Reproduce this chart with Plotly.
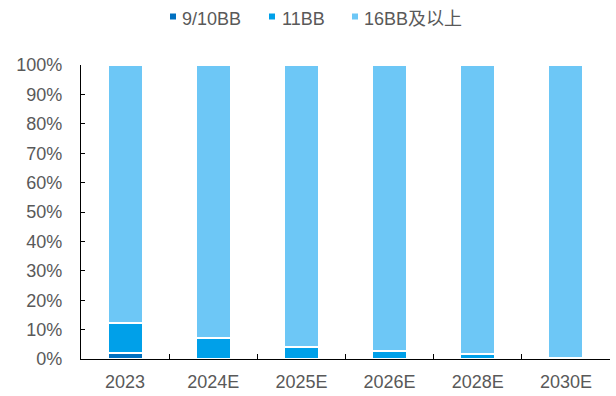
import plotly.graph_objects as go

years = ["2023", "2024E", "2025E", "2026E", "2028E", "2030E"]
share_9_10bb = [2.0, 0.0, 0.0, 0.0, 0.0, 0.0]
share_11bb = [10.2, 7.2, 4.0, 2.7, 1.7, 0.3]
share_16bb_plus = [round(100 - a - b, 1) for a, b in zip(share_9_10bb, share_11bb)]

series_names = ["9/10BB", "11BB", "16BB及以上"]
series_values = [share_9_10bb, share_11bb, share_16bb_plus]
series_colors = ["#0070C0", "#00A0E9", "#6DC7F6"]

W, H = 616, 396
L, R, T, B = 81, 6, 65, 37
plot_w, plot_h = W - L - R, H - T - B

text_color = "#595959"
font_family = "Liberation Sans, Arial, Noto Sans CJK SC, sans-serif"

fig = go.Figure()
for name, vals, color in zip(series_names, series_values, series_colors):
    fig.add_trace(go.Bar(
        x=years, y=vals, name=name,
        marker=dict(color=color, line=dict(color="white", width=1.5)),
        width=0.39,
        showlegend=False,
    ))

# Legend row built from small squares and labels above the plot
legend_marker_x = [170, 269, 352]
legend_text_x = [181, 281, 363]


def px_x(px):
    return (px - L) / plot_w


def px_y(py):
    return (H - B - py) / plot_h


shapes = []
annotations = []
for name, color, mx, tx in zip(series_names, series_colors, legend_marker_x, legend_text_x):
    shapes.append(dict(type="rect", xref="paper", yref="paper",
                       x0=px_x(mx), x1=px_x(mx + 6), y0=px_y(19.5), y1=px_y(13.5),
                       fillcolor=color, line=dict(width=0)))
    annotations.append(dict(text=name, xref="paper", yref="paper",
                            x=px_x(tx), y=px_y(19), xanchor="left", yanchor="middle",
                            showarrow=False, borderpad=0,
                            font=dict(size=18, color=text_color, family=font_family)))

fig.update_layout(
    barmode="stack",
    width=W, height=H,
    margin=dict(l=L, r=R, t=T, b=B, autoexpand=False),
    paper_bgcolor="white", plot_bgcolor="white",
    font=dict(family=font_family, size=18, color=text_color),
    showlegend=False,
    shapes=shapes,
    annotations=annotations,
    xaxis=dict(showline=True, linecolor="#000000", linewidth=1.3, automargin=False,
               ticks="inside", tickson="boundaries", ticklen=5, tickcolor="#000000",
               tickwidth=1.3, ticklabelstandoff=6,
               tickfont=dict(size=18, color=text_color), showgrid=False),
    yaxis=dict(range=[0, 100], dtick=10, ticksuffix="%", showgrid=False, automargin=False,
               showline=True, linecolor="#000000", linewidth=1.3,
               ticks="inside", ticklen=4, tickcolor="#000000", tickwidth=1.3,
               ticklabelstandoff=14, zeroline=False,
               tickfont=dict(size=18, color=text_color)),
)

fig.write_html("out.html")
